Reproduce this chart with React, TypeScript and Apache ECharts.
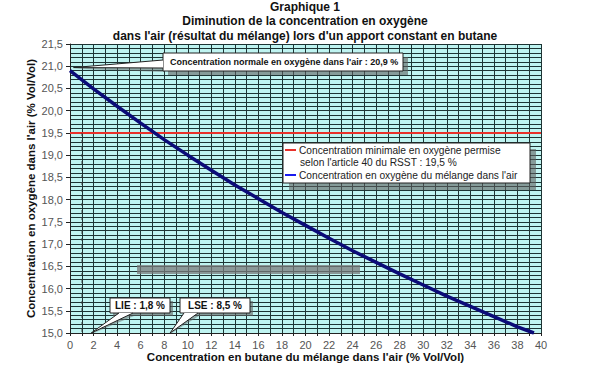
import React, { useEffect, useRef } from "react";
import * as echarts from "echarts";

const titleLines = [
  "Graphique 1",
  "Diminution de la concentration en oxygène",
  "dans l'air (résultat du mélange) lors d'un apport constant en butane",
];
const xAxisName = "Concentration en butane du mélange dans l'air (% Vol/Vol)";
const yAxisName = "Concentration en oxygène dans l'air (% Vol/Vol)";

const butane = [0, 2, 4, 6, 8, 10, 12, 14, 16, 18, 20, 22, 24, 26, 28, 30, 32, 34, 36, 38, 39.4];
const oxygen = [20.9, 20.49, 20.1, 19.72, 19.35, 19.0, 18.66, 18.33, 18.02, 17.71, 17.42, 17.13, 16.85, 16.59, 16.33, 16.08, 15.83, 15.6, 15.37, 15.14, 15.0];

const minimumX = [0, 40];
const minimumY = [19.5, 19.5];

const legendLine1 = "Concentration minimale en oxygène permise";
const legendLine2 = "selon l'article 40 du RSST : 19,5 %";
const legendLine3 = "Concentration en oxygène du mélange dans l'air";
const normalLabel = "Concentration normale en oxygène dans l'air : 20,9 %";
const lieLabel = "LIE : 1,8 %";
const lseLabel = "LSE : 8,5 %";
const lieValue = 1.8;
const lseValue = 8.5;
const normalValue = 20.9;

const FONT = "'Liberation Sans', Arial, sans-serif";
const GRIDLINE = "#1d3434";

export default function App() {
  const ref = useRef<HTMLDivElement>(null);
  useEffect(() => {
    if (!ref.current) return;
    const chart = echarts.init(ref.current, null, { renderer: "svg" });
    chart.setOption({
      animation: false,
      backgroundColor: "#ffffff",
      textStyle: { fontFamily: FONT },
      title: {
        text: titleLines.join("\n"),
        left: 305,
        textAlign: "center",
        top: 0,
        padding: 0,
        textStyle: { fontSize: 12, fontWeight: "bold", lineHeight: 14.3, color: "#111", fontFamily: FONT },
      },
      grid: {
        left: 70,
        right: 59,
        top: 44,
        bottom: 48,
        show: true,
        backgroundColor: "#bff4f1",
        borderWidth: 0,
      },
      xAxis: {
        type: "value",
        min: 0,
        max: 40,
        interval: 2,
        name: xAxisName,
        nameLocation: "middle",
        nameGap: 18,
        nameMoveOverlap: false,
        nameTextStyle: { fontSize: 11.5, fontWeight: "bold", color: "#111", fontFamily: FONT },
        axisLine: { show: true, lineStyle: { color: "#222", width: 1 } },
        axisTick: { show: true, length: 3, lineStyle: { color: "#222" } },
        minorTick: { show: true, splitNumber: 2, length: 3, lineStyle: { color: "#222" } },
        axisLabel: { margin: 6, fontSize: 11, color: "#555", fontFamily: FONT },
        splitLine: { show: true, lineStyle: { color: GRIDLINE, width: 1 } },
        minorSplitLine: { show: true, lineStyle: { color: GRIDLINE, width: 1 } },
      },
      yAxis: {
        type: "value",
        min: 15,
        max: 21.5,
        interval: 0.5,
        name: yAxisName,
        nameLocation: "middle",
        nameGap: 33,
        nameMoveOverlap: false,
        nameTextStyle: { fontSize: 11.5, fontWeight: "bold", color: "#111", fontFamily: FONT },
        axisLine: { show: true, lineStyle: { color: "#222", width: 1 } },
        axisTick: { show: true, length: 4, lineStyle: { color: "#222" } },
        minorTick: { show: false, splitNumber: 5 },
        axisLabel: {
          margin: 7,
          fontSize: 11,
          color: "#555",
          fontFamily: FONT,
          formatter: (v: number) => v.toFixed(1).replace(".", ","),
        },
        splitLine: { show: true, lineStyle: { color: GRIDLINE, width: 1 } },
        minorSplitLine: { show: true, lineStyle: { color: GRIDLINE, width: 1 } },
      },
      series: [
        {
          name: legendLine1,
          type: "line",
          data: minimumX.map((x, i) => [x, minimumY[i]]),
          symbol: "none",
          lineStyle: { color: "#e8302a", width: 2 },
          z: 3,
          markLine: {
            silent: true,
            symbol: "none",
            label: { show: false },
            lineStyle: { type: [3, 4], color: "#333", width: 1.5, opacity: 0.6 },
            data: [[{ coord: [1, 19.5] }, { coord: [1, 15] }]],
          },
        },
        {
          name: legendLine3,
          type: "line",
          data: butane.map((x, i) => [x, oxygen[i]]),
          symbol: "none",
          lineStyle: { color: "#0b0b78", width: 3.5 },
          z: 4,
        },
      ],
    });

    const px = (x: number, y: number) => chart.convertToPixel({ gridIndex: 0 }, [x, y]) as number[];
    const normalTip = px(0.3, normalValue + 0.07);
    const lieTip = px(lieValue, 15);
    const lseTip = px(lseValue, 15);

    const callout = (
      bx: number, by: number, bw: number, bh: number,
      base: number[][], tip: number[], label: string, font: any, textX: number, align: string,
      shadow: number[]
    ) => [
      { type: "rect", shape: { x: bx + shadow[0], y: by + shadow[1], width: bw, height: bh }, style: { fill: "rgba(95,95,95,0.6)" }, z: 100 },
      { type: "polygon", shape: { points: [[base[0][0] + shadow[0] * 0.3, base[0][1] + shadow[1]], [base[1][0] + shadow[0] * 0.3, base[1][1] + shadow[1]], [tip[0], tip[1] + shadow[1] * 0.3]] }, style: { fill: "rgba(95,95,95,0.5)" }, z: 100 },
      { type: "rect", shape: { x: bx, y: by, width: bw, height: bh }, style: { fill: "#fff", stroke: "#222", lineWidth: 1 }, z: 101 },
      { type: "polygon", shape: { points: [base[0], base[1], tip] }, style: { fill: "#fff" }, z: 102 },
      { type: "polyline", shape: { points: [base[0], tip, base[1]] }, style: { stroke: "#222", lineWidth: 1, fill: null }, z: 103 },
      { type: "text", x: textX, y: by + bh / 2, style: { text: label, font, fill: "#111", textAlign: align, textVerticalAlign: "middle" }, z: 104 },
    ];

    chart.setOption({
      graphic: [
        // faded empty text box artifact
        { type: "rect", shape: { x: 137, y: 265, width: 223, height: 9 }, style: { fill: "rgba(120,120,120,0.75)" }, z: 90 },
        // top callout
        ...callout(163, 53, 240, 18, [[163, 60], [163, 68]], normalTip, normalLabel,
          `bold 9px ${FONT}`, 170, "left", [5, 4]),
        // LIE / LSE
        ...callout(110, 298, 60, 15, [[119, 313], [133, 313]], lieTip, lieLabel,
          `bold 10px ${FONT}`, 140, "center", [3, 3]),
        ...callout(180, 298, 70, 15, [[184, 313], [198, 313]], lseTip, lseLabel,
          `bold 10px ${FONT}`, 215, "center", [3, 3]),
        // legend
        { type: "rect", shape: { x: 289, y: 149, width: 247, height: 41 }, style: { fill: "rgba(95,95,95,0.6)" }, z: 100 },
        { type: "rect", shape: { x: 283, y: 143, width: 247, height: 40 }, style: { fill: "#fff", stroke: "#222", lineWidth: 1 }, z: 101 },
        { type: "line", shape: { x1: 285, y1: 150, x2: 296, y2: 150 }, style: { stroke: "#e8302a", lineWidth: 2 }, z: 102 },
        { type: "text", x: 299, y: 150, style: { text: legendLine1, font: `10.2px ${FONT}`, fill: "#222", textVerticalAlign: "middle" }, z: 102 },
        { type: "text", x: 300, y: 162.5, style: { text: legendLine2, font: `10.2px ${FONT}`, fill: "#222", textVerticalAlign: "middle" }, z: 102 },
        { type: "line", shape: { x1: 285, y1: 175, x2: 296, y2: 175 }, style: { stroke: "#1a1aee", lineWidth: 2 }, z: 102 },
        { type: "text", x: 299, y: 175, style: { text: legendLine3, font: `10.2px ${FONT}`, fill: "#222", textVerticalAlign: "middle" }, z: 102 },
      ],
    });

    return () => chart.dispose();
  }, []);
  return <div ref={ref} style={{ position: "fixed", left: 0, top: 0, width: 600, height: 381 }} />;
}
